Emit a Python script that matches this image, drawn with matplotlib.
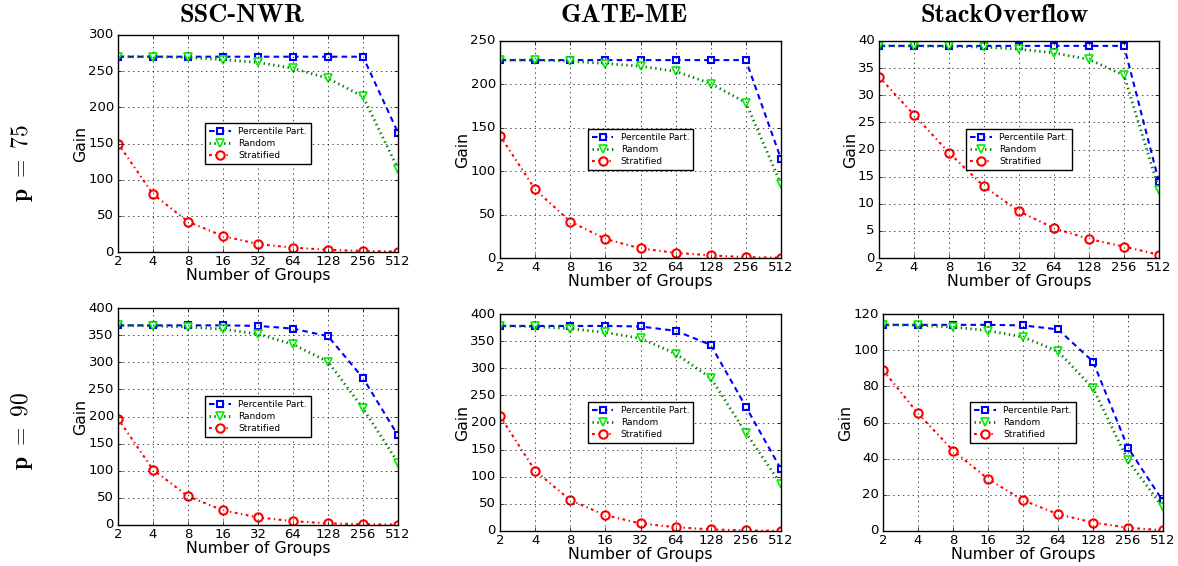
import os
import matplotlib
matplotlib.use("Agg")
import matplotlib.pyplot as plt
from matplotlib import font_manager
from matplotlib.ticker import FixedLocator, FixedFormatter, NullLocator

plt.style.use("classic")
plt.rcParams["mathtext.fontset"] = "cm"
plt.rcParams["lines.dashed_pattern"] = [4, 3]
plt.rcParams["lines.dotted_pattern"] = [1, 2.5]
plt.rcParams["lines.dashdot_pattern"] = [2, 2.5, 1, 2.5]

cmb = font_manager.FontProperties(
    fname=os.path.join(matplotlib.get_data_path(), "fonts", "ttf", "cmb10.ttf"), size=19)

groups = [2, 4, 8, 16, 32, 64, 128, 256, 512]
datasets = ["SSC-NWR", "GATE-ME", "StackOverflow"]
row_labels = [r"$\mathbf{p\ =\ 75}$", r"$\mathbf{p\ =\ 90}$"]

# p = 75
ssc75_pct = [270, 270, 270, 270, 270, 270, 270, 270, 165]
ssc75_rnd = [270, 270, 269, 266, 262, 254, 240, 215, 115]
ssc75_str = [150, 80, 42, 22, 11, 6, 3, 1.5, 0.5]
gate75_pct = [228, 228, 228, 228, 228, 228, 228, 228, 114]
gate75_rnd = [228, 228, 227, 224, 221, 215, 201, 179, 85]
gate75_str = [141, 79, 42, 22, 11, 6, 3, 1, 0.3]
so75_pct = [39.1, 39.1, 39.1, 39.1, 39.1, 39.1, 39.1, 39.1, 14]
so75_rnd = [39.1, 39.1, 39.0, 38.9, 38.5, 37.8, 36.6, 33.7, 12.6]
so75_str = [33.4, 26.4, 19.4, 13.2, 8.6, 5.5, 3.5, 2.1, 0.6]

# p = 90
ssc90_pct = [368, 368, 368, 368, 367, 362, 348, 271, 165]
ssc90_rnd = [368, 367, 365, 361, 352, 333, 301, 215, 115]
ssc90_str = [196, 102, 53, 27, 14, 7, 3, 1.5, 0.5]
gate90_pct = [378, 378, 378, 378, 377, 369, 343, 229, 114]
gate90_rnd = [378, 377, 373, 366, 355, 327, 282, 181, 86]
gate90_str = [212, 111, 57, 29, 14, 7, 3, 1, 0.3]
so90_pct = [114, 114, 114, 114, 113.7, 111.5, 93.7, 46, 16.5]
so90_rnd = [114, 113.8, 112.8, 110.8, 107.3, 99.3, 79, 39, 13]
so90_str = [89, 65, 44.5, 28.8, 17, 9.3, 4.7, 1.8, 0.4]

panels = [
    (ssc75_pct, ssc75_rnd, ssc75_str, 300, 50),
    (gate75_pct, gate75_rnd, gate75_str, 250, 50),
    (so75_pct, so75_rnd, so75_str, 40, 5),
    (ssc90_pct, ssc90_rnd, ssc90_str, 400, 50),
    (gate90_pct, gate90_rnd, gate90_str, 400, 50),
    (so90_pct, so90_rnd, so90_str, 120, 20),
]

# axes boxes in pixels: left, right, top, bottom
boxes = [
    (118, 398, 35, 252), (500, 781, 41, 258), (879, 1159, 41, 258),
    (118, 398, 308, 525), (500, 781, 314, 531), (883, 1163, 314, 531),
]

W, H = 1178, 566
fig = plt.figure(figsize=(W / 100, H / 100), dpi=100, facecolor="white")

for (pct, rnd, strat, ymax, ystep), (l, r, t, b) in zip(panels, boxes):
    ax = fig.add_axes([l / W, 1 - b / H, (r - l) / W, (b - t) / H])
    ax.plot(groups, pct, "--", color="blue", lw=1.5, marker="s", ms=5,
            mfc="white", mec="blue", mew=1.5, label="Percentile Part.")
    ax.plot(groups, rnd, ":", color="#008000", lw=2, marker="v", ms=6,
            mfc="white", mec="#00ee00", mew=1.2, label="Random")
    ax.plot(groups, strat, "-.", color="red", lw=1.5, marker="o", ms=6,
            mfc="white", mec="red", mew=1.5, label="Stratified")
    ax.set_xscale("log", base=2)
    ax.set_xlim(2, 512)
    ax.xaxis.set_major_locator(FixedLocator(groups))
    ax.xaxis.set_major_formatter(FixedFormatter([str(g) for g in groups]))
    ax.xaxis.set_minor_locator(NullLocator())
    ax.set_ylim(0, ymax)
    ax.set_yticks(range(0, ymax + 1, ystep))
    ax.tick_params(labelsize=9.5, length=3)
    ax.tick_params(axis="x", pad=2)
    ax.tick_params(axis="y", pad=3)
    ax.grid(True, color="black", linestyle=":", lw=0.5)
    ax.set_xlabel("Number of Groups", fontsize=11.3, labelpad=0)
    ax.set_ylabel("Gain", fontsize=11.3, labelpad=0)
    ax.legend(loc="center", fontsize=6.5, numpoints=1, handlelength=2.4,
              borderpad=0.45, labelspacing=0.35, fancybox=False)

for x, name in zip([242, 624, 1005], datasets):
    fig.text(x / W, 1 - 16 / H, name, fontproperties=cmb, ha="center", va="center")

for y, lab in zip([163, 431], row_labels):
    fig.text(22 / W, 1 - y / H, lab, fontsize=17, rotation=90, ha="center", va="center")

fig.savefig("out.png", dpi=100, facecolor="white")
